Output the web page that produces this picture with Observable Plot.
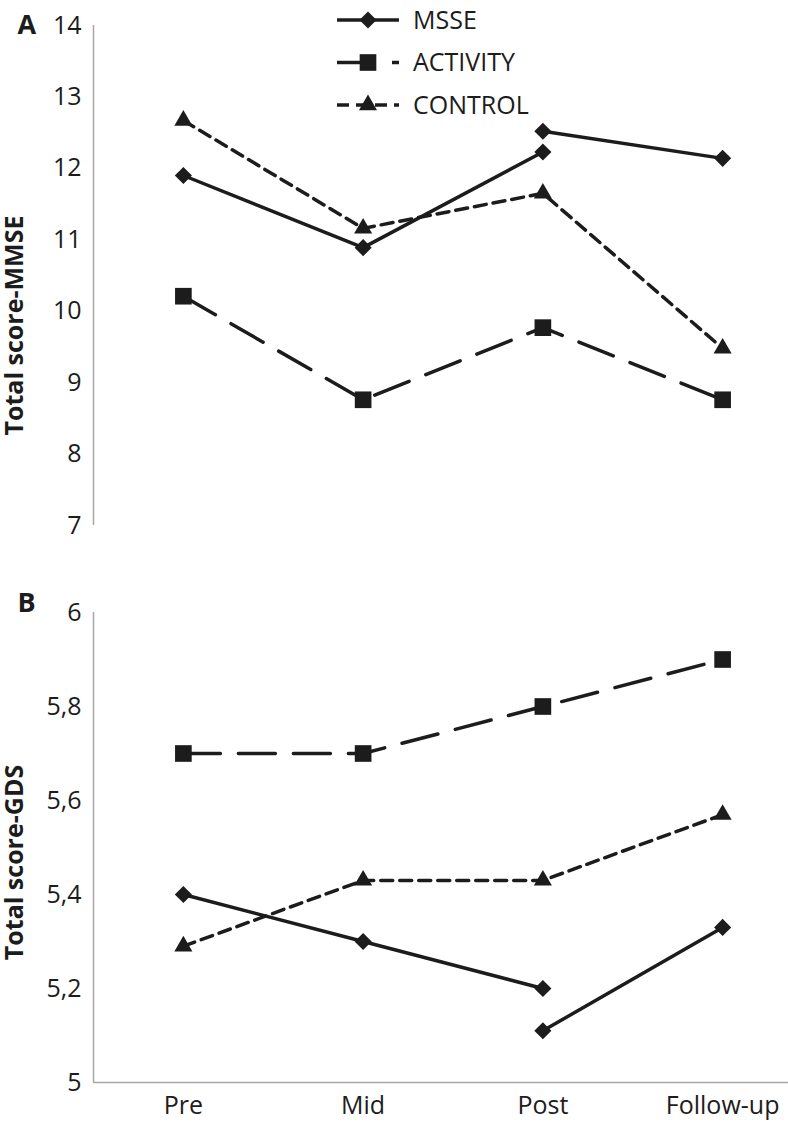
<!DOCTYPE html>
<html><head><meta charset="utf-8">
<script src="https://cdn.jsdelivr.net/npm/d3@7"></script>
<script src="https://cdn.jsdelivr.net/npm/@observablehq/plot@0.6"></script>
<style>
html,body{margin:0;padding:0;background:#fff;}
#wrap{position:relative;width:788px;height:1133px;font-family:'Open Sans',sans-serif;color:#1c1c1c;overflow:hidden;background:#fff}
</style></head><body><div id="wrap"></div>
<script>
// ---- data ----
const times = ["Pre", "Mid", "Post", "Follow-up"];
// Panel A: Total score-MMSE
const mmseTicks = [7, 8, 9, 10, 11, 12, 13, 14];
const mmseMSSE = [11.9, 10.89, 12.23, null];
const mmseMSSEFollow = [null, null, 12.52, 12.14];
const mmseActivity = [10.21, 8.76, 9.77, 8.76];
const mmseControl = [12.67, 11.16, 11.65, 9.48];
// Panel B: Total score-GDS
const gdsTicks = [5, 5.2, 5.4, 5.6, 5.8, 6];
const gdsMSSE = [5.4, 5.3, 5.2, null];
const gdsMSSEFollow = [null, null, 5.11, 5.33];
const gdsActivity = [5.7, 5.7, 5.8, 5.9];
const gdsControl = [5.29, 5.43, 5.43, 5.57];
const legendLabels = ["MSSE", "ACTIVITY", "CONTROL"];

// ---- styles ----
const INK = "#1c1c1c";
const AXIS = "#a6a6a6";
const LW = 3.5;
const FS = 25;
const styles = {
  MSSE: {dash: null, symbol: "diamond2", r: 7.7, d3sym: d3.symbolDiamond2},
  ACTIVITY: {dash: "37,18", symbol: "square", r: 9.4, d3sym: d3.symbolSquare},
  CONTROL: {dash: "12,7", symbol: "triangle", r: 6.7, d3sym: d3.symbolTriangle}
};
const rows = arr => arr.map((v, i) => ({i, v})).filter(d => d.v != null);
const fmt = d => String(d).replace(".", ",");

function seriesMarks(arr, key) {
  const s = styles[key];
  const data = rows(arr);
  return [
    Plot.line(data, {x: "i", y: "v", stroke: INK, strokeWidth: LW, strokeDasharray: s.dash || undefined}),
    Plot.dot(data, {x: "i", y: "v", symbol: s.symbol, r: s.r, fill: INK, stroke: "none"})
  ];
}

const common = {
  width: 788,
  marginLeft: 93,
  marginRight: 0,
  style: {fontFamily: "'Open Sans', sans-serif", fontSize: FS + "px", color: INK, background: "white", overflow: "visible"}
};
const xOpt = {domain: [-0.5, times.length - 0.5], range: [93, 812], axis: null};

const plotA = Plot.plot({
  ...common,
  height: 560,
  marginTop: 25,
  marginBottom: 35,
  x: xOpt,
  y: {domain: [7, 14], ticks: mmseTicks, tickSize: 0, tickPadding: 12, label: null, tickFormat: fmt},
  marks: [
    Plot.ruleX([-0.5], {stroke: AXIS, strokeWidth: 1.5}),
    ...seriesMarks(mmseActivity, "ACTIVITY"),
    ...seriesMarks(mmseControl, "CONTROL"),
    ...seriesMarks(mmseMSSE, "MSSE"),
    ...seriesMarks(mmseMSSEFollow, "MSSE"),
    Plot.text(["A"], {frameAnchor: "top-left", textAnchor: "start", dx: -76, dy: -11, fontWeight: "bold", fontSize: 27, fill: INK}),
    Plot.text(["Total score-MMSE"], {frameAnchor: "left", textAnchor: "middle", rotate: -90, dx: -79, dy: 50, fontWeight: "bold", fontSize: 25, fill: INK})
  ]
});

const plotB = Plot.plot({
  ...common,
  height: 573,
  marginTop: 52,
  marginBottom: 51,
  x: xOpt,
  y: {domain: [5, 6], ticks: gdsTicks, tickSize: 0, tickPadding: 12, label: null, tickFormat: fmt},
  marks: [
    Plot.ruleX([-0.5], {stroke: AXIS, strokeWidth: 1.5}),
    Plot.ruleY([5], {stroke: AXIS, strokeWidth: 1.5}),
    ...seriesMarks(gdsActivity, "ACTIVITY"),
    ...seriesMarks(gdsControl, "CONTROL"),
    ...seriesMarks(gdsMSSE, "MSSE"),
    ...seriesMarks(gdsMSSEFollow, "MSSE"),
    Plot.text(times, {x: (d, i) => i, frameAnchor: "bottom", dy: 31, fill: INK, fontSize: FS}),
    Plot.text(["B"], {frameAnchor: "top-left", textAnchor: "start", dx: -76, dy: -20, fontWeight: "bold", fontSize: 27, fill: INK}),
    Plot.text(["Total score-GDS"], {frameAnchor: "left", textAnchor: "middle", rotate: -90, dx: -79, dy: 15, fontWeight: "bold", fontSize: 25, fill: INK})
  ]
});

const wrap = document.getElementById("wrap");
function place(node, top) {
  const d = document.createElement("div");
  d.style.position = "absolute"; d.style.left = "0px"; d.style.top = top + "px";
  d.appendChild(node); wrap.appendChild(d);
}
place(plotA, 0);
place(plotB, 560);

// legend
const leg = d3.select(wrap).append("svg")
  .attr("width", 260).attr("height", 130)
  .style("position", "absolute").style("left", "330px").style("top", "0px")
  .style("font-family", "'Open Sans', sans-serif").style("overflow", "visible");
legendLabels.forEach((lab, k) => {
  const s = styles[lab];
  const cy = 20 + k * 42.5;
  leg.append("line").attr("x1", 7).attr("x2", 69).attr("y1", cy).attr("y2", cy)
    .attr("stroke", INK).attr("stroke-width", LW).attr("stroke-dasharray", s.dash);
  leg.append("path").attr("d", d3.symbol(s.d3sym, Math.PI * s.r * s.r)())
    .attr("transform", `translate(38,${cy})`).attr("fill", INK);
  leg.append("text").attr("x", 83).attr("y", cy).attr("dy", "0.35em")
    .attr("font-size", FS).attr("fill", INK).text(lab);
});
</script></body></html>
